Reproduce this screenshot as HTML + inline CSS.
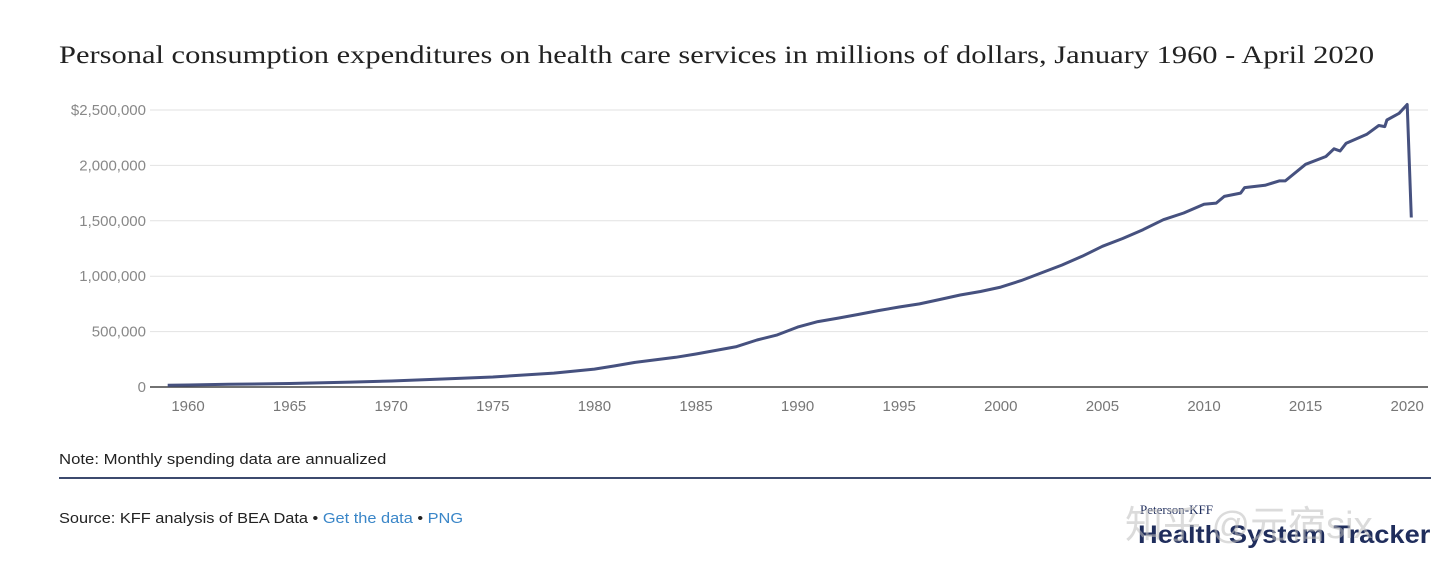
<!DOCTYPE html>
<html><head><meta charset="utf-8"><style>
body{margin:0;background:#fff;width:1440px;height:575px;overflow:hidden;font-family:"Liberation Sans",sans-serif}
#title{position:absolute;left:59px;top:40px;font-family:"Liberation Serif",serif;font-size:25.5px;color:#222;transform:scaleX(1.195);transform-origin:0 0;white-space:nowrap}
#note{position:absolute;left:59px;top:451px;font-size:15px;color:#222;transform:scaleX(1.115);transform-origin:0 0;white-space:nowrap}
#rule{position:absolute;left:59px;top:477px;width:1372px;height:2px;background:#3c4a6e}
#source{position:absolute;left:59px;top:510px;font-size:15px;color:#222;transform:scaleX(1.09);transform-origin:0 0;white-space:nowrap}
#source a{color:#3a86c8;text-decoration:none}
#brand1{position:absolute;left:1140px;top:502px;font-family:"Liberation Serif",serif;font-size:13px;color:#1f2d5c}
#brand2{position:absolute;left:1138px;top:521px;font-size:25px;font-weight:bold;color:#1f2d5c;transform:scaleX(1.09);transform-origin:0 0;white-space:nowrap}
#wm{position:absolute;left:1125px;top:494px;font-family:"Liberation Sans","Noto Sans CJK SC",sans-serif;font-size:38px;color:rgba(190,190,190,0.55)}
</style></head><body>
<div id="title">Personal consumption expenditures on health care services in millions of dollars, January 1960 - April 2020</div>
<svg id="chart" width="1440" height="440" style="position:absolute;left:0;top:0"></svg>
<div id="note">Note: Monthly spending data are annualized</div>
<div id="rule"></div>
<div id="source">Source: KFF analysis of BEA Data • <a>Get the data</a> • <a>PNG</a></div>
<div id="brand1">Peterson-KFF</div>
<div id="brand2">Health System Tracker</div>
<div id="wm">知乎 @元宿six</div>
<script>
const years=[1959,1960,1962,1965,1968,1970,1973,1975,1978,1980,1981,1982,1984,1985,1987,1988,1989,1990,1991,1992,1993,1994,1995,1996,1997,1998,1999,2000,2001,2002,2003,2004,2005,2006,2007,2008,2009,2010,2010.6,2011,2011.8,2012,2013,2013.7,2014,2015,2016,2016.4,2016.7,2017,2018,2018.6,2018.9,2019,2019.6,2020.0,2020.2];
const values=[16,18,24,32,44,54,76,90,125,162,190,222,268,298,365,424,470,541,590,622,655,690,722,750,790,830,862,902,960,1030,1100,1180,1270,1340,1420,1510,1570,1650,1660,1720,1750,1800,1820,1860,1860,2010,2080,2150,2130,2200,2280,2360,2350,2410,2470,2550,1530].map(v=>v*1000);
const yTicks=[0,500000,1000000,1500000,2000000,2500000];
const yLabels=["0","500,000","1,000,000","1,500,000","2,000,000","$2,500,000"];
const xTicks=[1960,1965,1970,1975,1980,1985,1990,1995,2000,2005,2010,2015,2020];
const NS="http://www.w3.org/2000/svg";
const svg=document.getElementById('chart');
const X=t=>188+(t-1960)*20.32;
const Y=v=>387-v/2500000*277;
function mk(tag,attrs){const e=document.createElementNS(NS,tag);for(const k in attrs)e.setAttribute(k,attrs[k]);svg.appendChild(e);return e;}
yTicks.forEach((v,i)=>{
  const g=mk('line',{x1:150,x2:1428,y1:Y(v),y2:Y(v),stroke:i==0?'#444':'#e2e2e2','stroke-width':i==0?1.5:1});
  
  
  const t=mk('text',{x:146,y:Y(v)+5,'text-anchor':'end','font-size':15,fill:'#888','font-family':'Liberation Sans'});
  t.textContent=yLabels[i];
  
  
});
xTicks.forEach(yr=>{
  const t=mk('text',{x:X(yr),y:411,'text-anchor':'middle','font-size':15,fill:'#777','font-family':'Liberation Sans'});
  t.textContent=yr;
  
  
});
const p=mk('path',{d:years.map((t,i)=>(i?'L':'M')+X(t).toFixed(1)+','+Y(values[i]).toFixed(1)).join(''),fill:'none',stroke:'#46517f','stroke-width':3,'stroke-linejoin':'round'});


</script>
</body></html>
